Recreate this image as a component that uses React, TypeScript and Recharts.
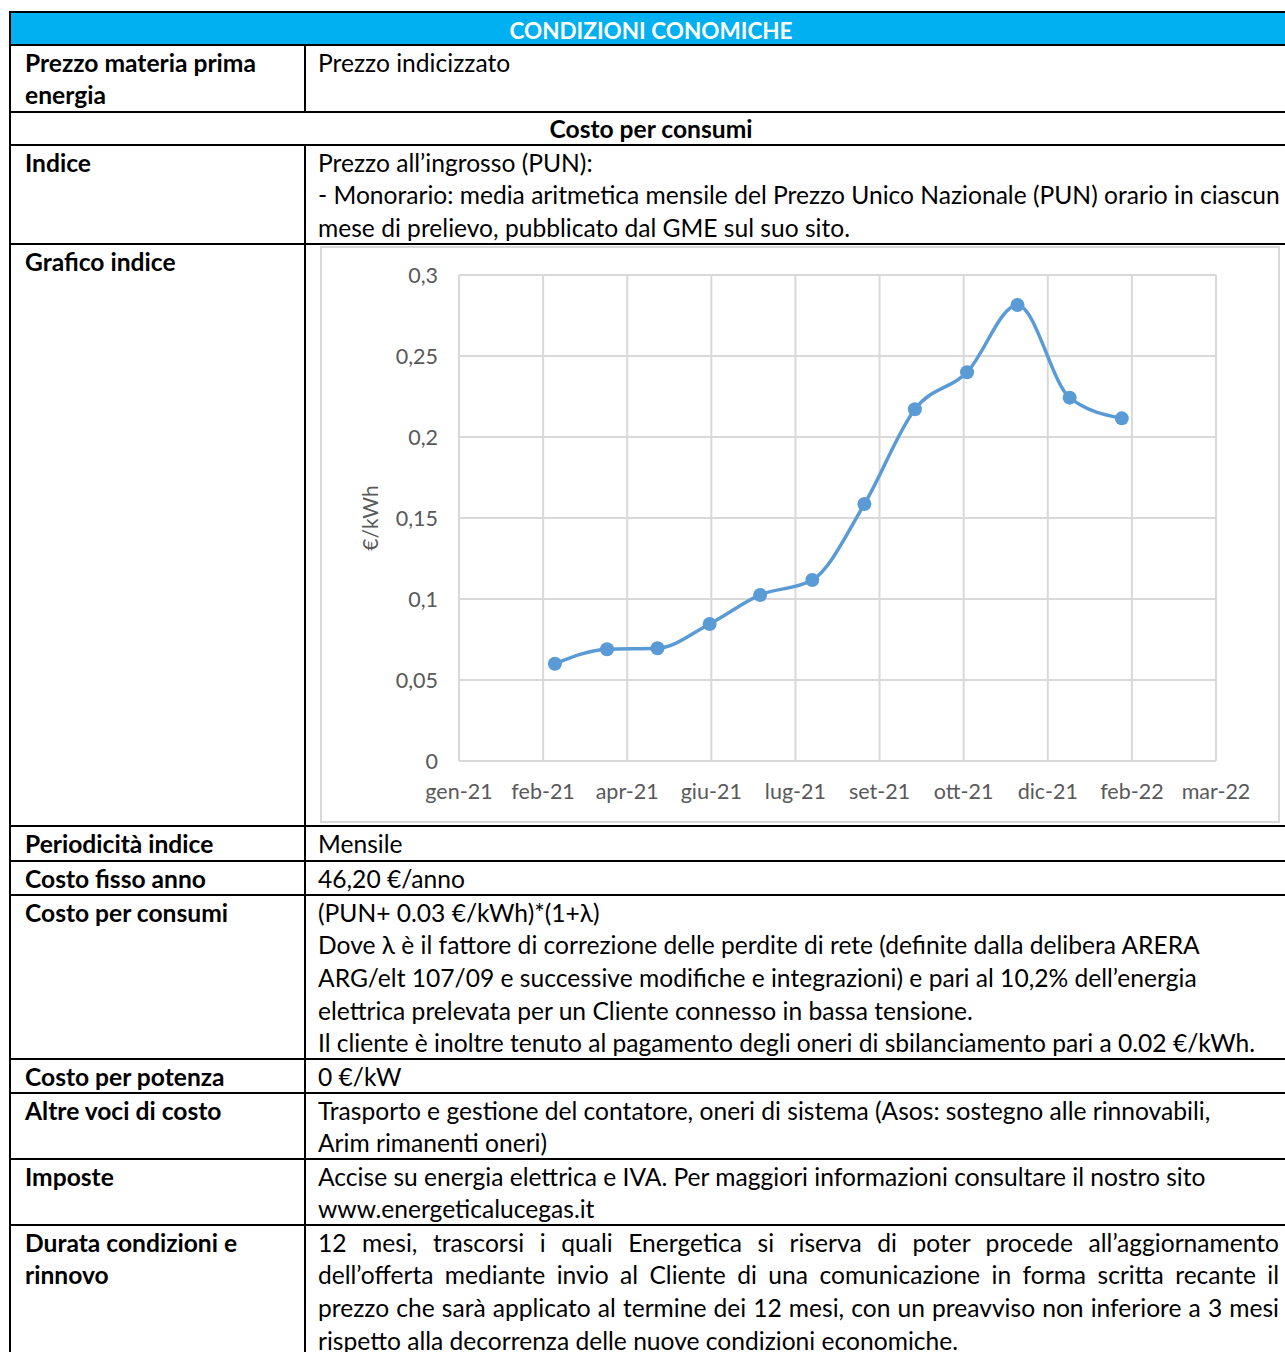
import React from 'react'
import { LineChart, Line, XAxis, YAxis, CartesianGrid, Label } from 'recharts'

// PUN monthly average, €/kWh (mar-21 .. feb-22)
const months = [
  '2021-03-01', '2021-04-01', '2021-05-01', '2021-06-01', '2021-07-01', '2021-08-01',
  '2021-09-01', '2021-10-01', '2021-11-01', '2021-12-01', '2022-01-01', '2022-02-01',
]
const pun = [0.06, 0.069, 0.0696, 0.0846, 0.1025, 0.1117, 0.1586, 0.2171, 0.24, 0.2815, 0.2243, 0.2115]

// Excel date axis: major unit 50 days
const tickDates = [
  '2021-01-03', '2021-02-22', '2021-04-13', '2021-06-02', '2021-07-22',
  '2021-09-10', '2021-10-30', '2021-12-19', '2022-02-07', '2022-03-29',
]
const tickLabels = ['gen-21', 'feb-21', 'apr-21', 'giu-21', 'lug-21', 'set-21', 'ott-21', 'dic-21', 'feb-22', 'mar-22']
const yTicks = [0, 0.05, 0.1, 0.15, 0.2, 0.25, 0.3]

const toDay = (s: string) => {
  const [y, m, d] = s.split('-').map(Number)
  return (Date.UTC(y, m - 1, d) - Date.UTC(2021, 0, 1)) / 86400000
}

const data = months.map((m, i) => ({ day: toDay(m), pun: pun[i] }))
const xTicks = tickDates.map(toDay)

const FONT = 'Lato, "Noto Sans", sans-serif'
const FS = 24.6
const LH = 32.7
const GREY = '#595959'

function PunChart() {
  return (
    <LineChart width={956} height={573} data={data} margin={{ top: 27, right: 62, left: 0, bottom: 0 }}>
      <CartesianGrid stroke="#d9d9d9" strokeWidth={2} />
      <XAxis
        dataKey="day"
        type="number"
        domain={[xTicks[0], xTicks[xTicks.length - 1]]}
        ticks={xTicks}
        interval={0}
        height={60}
        tickFormatter={(v) => tickLabels[xTicks.indexOf(v)] ?? ''}
        tick={{ fontSize: 21.5, fill: GREY, fontFamily: FONT }}
        axisLine={{ stroke: '#d9d9d9', strokeWidth: 2 }}
        tickLine={false}
        tickSize={0}
        tickMargin={23}
      />
      <YAxis
        type="number"
        domain={[0, 0.3]}
        ticks={yTicks}
        width={137}
        tickFormatter={(v) => String(v).replace('.', ',')}
        tick={{ fontSize: 21.5, fill: GREY, fontFamily: FONT }}
        axisLine={false}
        tickLine={false}
        tickSize={0}
        tickMargin={21}
      >
        <Label
          value="€/kWh"
          angle={-90}
          position="insideLeft"
          offset={49}
          style={{ textAnchor: 'middle', fontSize: 21, fill: GREY, fontFamily: FONT }}
        />
      </YAxis>
      <Line
        type="monotone"
        dataKey="pun"
        stroke="#5B9BD5"
        strokeWidth={3.5}
        dot={{ r: 7, fill: '#5B9BD5', stroke: '#5B9BD5', strokeWidth: 0 }}
        isAnimationActive={false}
      />
    </LineChart>
  )
}

const rowTops = [11, 44, 111, 144, 243, 825, 860, 894, 1058, 1092, 1158, 1224, 1400]

function Lines({ lines, bold, justify }: { lines: string[]; bold?: boolean; justify?: number }) {
  return (
    <>
      {lines.map((l, i) => (
        <div
          key={i}
          style={{
            whiteSpace: 'nowrap',
            fontWeight: bold ? 700 : 400,
            textAlign: justify !== undefined && i < justify ? 'justify' : 'left',
            textAlignLast: justify !== undefined && i < justify ? 'justify' : 'left',
            height: LH,
          }}
        >
          {l}
        </div>
      ))}
    </>
  )
}

function Row({ idx, label, value, justify, children }: { idx: number; label: string[]; value?: string[]; justify?: number; children?: React.ReactNode }) {
  const top = rowTops[idx]
  const h = rowTops[idx + 1] - top
  return (
    <div
      style={{
        position: 'absolute', left: 9, top, width: 1284, height: h,
        borderTop: '2px solid #000', borderLeft: '2px solid #000', borderRight: '2px solid #000',
        boxSizing: 'border-box', display: 'flex',
      }}
    >
      <div style={{ width: 295, flexShrink: 0, borderRight: '2px solid #000', paddingLeft: 14, boxSizing: 'border-box' }}>
        <div style={{ marginTop: 0.5 }}>
          <Lines lines={label} bold />
        </div>
      </div>
      <div style={{ width: 985, minWidth: 0, flexShrink: 0, paddingLeft: 12, paddingRight: 12, boxSizing: 'border-box', position: 'relative' }}>
        <div style={{ marginTop: 0.5 }}>{value && <Lines lines={value} justify={justify} />}</div>
        {children}
      </div>
    </div>
  )
}

export default function App() {
  return (
    <div
      style={{
        position: 'absolute', left: 0, top: 0, width: 1285, height: 1352, overflow: 'hidden',
        background: '#fff', fontFamily: FONT, fontSize: FS, lineHeight: `${LH}px`, color: '#000',
      }}
    >
      {/* header */}
      <div
        style={{
          position: 'absolute', left: 9, top: 11, width: 1284, height: 34,
          border: '2px solid #000', borderBottom: 'none', boxSizing: 'border-box',
          background: '#00B0F0', color: '#fff', fontWeight: 700, textAlign: 'center',
          fontSize: 22.5, lineHeight: '32px', paddingTop: 2,
        }}
      >
        CONDIZIONI CONOMICHE
      </div>
      <Row idx={1} label={['Prezzo materia prima', 'energia']} value={['Prezzo indicizzato']} />
      <div
        style={{
          position: 'absolute', left: 9, top: 111, width: 1284, height: 33,
          borderTop: '2px solid #000', borderLeft: '2px solid #000', borderRight: '2px solid #000',
          boxSizing: 'border-box', textAlign: 'center', fontWeight: 700, lineHeight: '31px',
        }}
      >
        Costo per consumi
      </div>
      <Row
        idx={3}
        label={['Indice']}
        value={[
          'Prezzo all’ingrosso (PUN):',
          '- Monorario: media aritmetica mensile del Prezzo Unico Nazionale (PUN) orario in ciascun',
          'mese di prelievo, pubblicato dal GME sul suo sito.',
        ]}
      />
      <Row idx={4} label={['Grafico indice']}>
        <div
          style={{
            position: 'absolute', left: 319 - 305, top: 246 - 245, width: 960, height: 577,
            border: '2px solid #d9d9d9', boxSizing: 'border-box', background: '#fff',
          }}
        >
          <PunChart />
        </div>
      </Row>
      <Row idx={5} label={['Periodicità indice']} value={['Mensile']} />
      <Row idx={6} label={['Costo fisso anno']} value={['46,20 €/anno']} />
      <Row
        idx={7}
        label={['Costo per consumi']}
        value={[
          '(PUN+ 0.03 €/kWh)*(1+λ)',
          'Dove λ è il fattore di correzione delle perdite di rete (definite dalla delibera ARERA',
          'ARG/elt 107/09 e successive modifiche e integrazioni) e pari al 10,2% dell’energia',
          'elettrica prelevata per un Cliente connesso in bassa tensione.',
          'Il cliente è inoltre tenuto al pagamento degli oneri di sbilanciamento pari a 0.02 €/kWh.',
        ]}
      />
      <Row idx={8} label={['Costo per potenza']} value={['0 €/kW']} />
      <Row
        idx={9}
        label={['Altre voci di costo']}
        value={[
          'Trasporto e gestione del contatore, oneri di sistema (Asos: sostegno alle rinnovabili,',
          'Arim rimanenti oneri)',
        ]}
      />
      <Row
        idx={10}
        label={['Imposte']}
        value={[
          'Accise su energia elettrica e IVA. Per maggiori informazioni consultare il nostro sito',
          'www.energeticalucegas.it',
        ]}
      />
      <Row
        idx={11}
        label={['Durata condizioni e', 'rinnovo']}
        justify={3}
        value={[
          '12 mesi, trascorsi i quali Energetica si riserva di poter procede all’aggiornamento',
          'dell’offerta mediante invio al Cliente di una comunicazione in forma scritta recante il',
          'prezzo che sarà applicato al termine dei 12 mesi, con un preavviso non inferiore a 3 mesi',
          'rispetto alla decorrenza delle nuove condizioni economiche.',
        ]}
      />
    </div>
  )
}
